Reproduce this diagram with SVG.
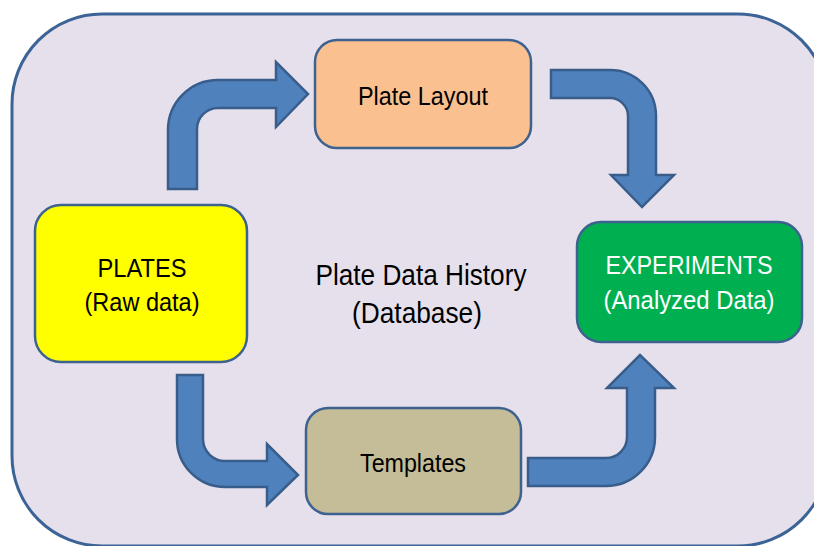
<svg xmlns="http://www.w3.org/2000/svg" width="814" height="546" viewBox="0 0 814 546">
<style>
.box{stroke:#3d6290;stroke-width:2.5}
.arrow{fill:#4f81bd;stroke:#385d8a;stroke-width:2.5;stroke-linejoin:miter}
text{font-family:"Liberation Sans",Arial,sans-serif;text-anchor:middle}
.t{font-size:26px;fill:#000}
.w{font-size:26px;fill:#ffffff}
.c{font-size:29px;fill:#000}
</style>
<rect width="814" height="546" fill="#ffffff"/>
<g id="background">
<rect x="12" y="14" width="816" height="532" rx="90" ry="90" fill="#e6e0ec" stroke="#3b6395" stroke-width="3"/>
</g>
<g id="connectors">
<path class="arrow" d="M168,189 L168,130 A50,50 0 0 1 218,80 L276,80 L276,62 L308,94 L276,127 L276,108 L218,108 A21,21 0 0 0 197,129 L197,189 Z"/>
<path class="arrow" d="M551,70 L610,70 A46,46 0 0 1 656,116 L656,175 L674,175 L642,207 L611,175 L628,175 L628,116 A18,18 0 0 0 610,98 L551,98 Z"/>
<path class="arrow" d="M177,375 L203,375 L203,439 A22,22 0 0 0 225,461 L267,461 L267,444 L298,475 L267,505 L267,487 L225,487 A48,48 0 0 1 177,439 Z"/>
<path class="arrow" d="M528,458 L606,458 A21,21 0 0 0 627,437 L627,388 L607,388 L640,355 L674,388 L655,388 L655,437 A49,49 0 0 1 606,486 L528,486 Z"/>
</g>
<g id="plates">
<rect class="box" x="35" y="205" width="212" height="157" rx="26" fill="#ffff00"/>
<text class="t" x="142" y="277" textLength="89" lengthAdjust="spacingAndGlyphs">PLATES</text>
<text class="t" x="142" y="311" textLength="115" lengthAdjust="spacingAndGlyphs">(Raw data)</text>
</g>
<g id="plate-layout">
<rect class="box" x="315" y="40" width="216" height="108" rx="22" fill="#fac090"/>
<text class="t" x="423" y="105" textLength="130" lengthAdjust="spacingAndGlyphs">Plate Layout</text>
</g>
<g id="templates">
<rect class="box" x="306" y="408" width="215" height="106" rx="22" fill="#c4bd97"/>
<text class="t" x="413" y="472" textLength="106" lengthAdjust="spacingAndGlyphs">Templates</text>
</g>
<g id="experiments">
<rect class="box" x="577" y="222" width="225" height="120" rx="24" fill="#00b050"/>
<text class="w" x="689" y="274" textLength="167" lengthAdjust="spacingAndGlyphs">EXPERIMENTS</text>
<text class="w" x="689" y="309" textLength="171" lengthAdjust="spacingAndGlyphs">(Analyzed Data)</text>
</g>
<g id="database">
<text class="c" x="421" y="285" textLength="211" lengthAdjust="spacingAndGlyphs">Plate Data History</text>
<text class="c" x="417" y="323" textLength="130" lengthAdjust="spacingAndGlyphs">(Database)</text>
</g>
</svg>
